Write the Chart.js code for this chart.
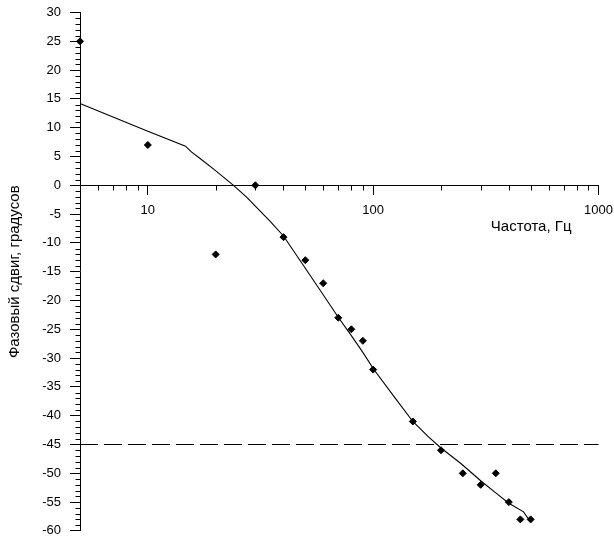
<!DOCTYPE html>
<html>
<head>
<meta charset="utf-8">
<script src="https://cdn.jsdelivr.net/npm/chart.js@4/dist/chart.umd.min.js"></script>
<style>
  html, body { margin: 0; padding: 0; background: #fff; }
  #wrap { width: 614px; height: 542px; position: relative; }
</style>
</head>
<body>
<div id="wrap"><canvas id="c"></canvas></div>
<script>
// Measured points: frequency (Hz) and phase shift (degrees)
const freq  = [5, 10, 20, 30, 40, 50, 60, 70, 80, 90, 100, 150, 200, 250, 300, 350, 400, 450, 500];
const phase = [25, 7, -12, 0, -9, -13, -17, -23, -25, -27, -32, -41, -46, -50, -52, -50, -55, -58, -58];

// Fitted curve
const fitFreq  = [5, 10, 14.7, 15.5, 17, 19.6, 24, 27.5, 30, 35, 40, 50, 60, 70, 80, 90, 100, 125, 150, 175, 200, 245, 300, 350, 400, 465, 500];
const fitPhase = [14.2, 9.4, 6.8, 5.9, 4.7, 2.8, 0, -2.1, -3.6, -6.3, -8.8, -14.4, -19.0, -22.9, -26.1, -29.0, -31.8, -36.9, -41.0, -43.6, -45.6, -48.3, -51.3, -53.4, -55.2, -56.7, -58.5];

// -45 degree reference line
const refFreq  = [5, 1000];
const refPhase = [-45, -45];

// Axis ranges and tick labels
const xMin = 5, xMax = 1000;
const xMajorTicks = [10, 100, 1000];
const yMin = -60, yMax = 30, yStep = 5;
const xTitle = 'Частота, Гц';
const yTitle = 'Фазовый сдвиг, градусов';

const FAMILY = '"Liberation Sans", Arial, sans-serif';
const FONT = { family: FAMILY, size: 13 };
const TFONT = { family: FAMILY, size: 15 };

const pts = (xs, ys) => xs.map((v, i) => ({ x: v, y: ys[i] }));

const noPad = (s) => { s.paddingTop = 0; s.paddingBottom = 0; s.paddingLeft = 0; s.paddingRight = 0; };

const extras = {
  id: 'extras',
  afterDraw(chart) {
    const { ctx, scales: { x, y } } = chart;
    ctx.save();
    ctx.strokeStyle = '#000';
    ctx.lineWidth = 1;
    ctx.beginPath();
    const ax = Math.round(x.left) + 0.5;
    for (let v = yMin; v <= yMax; v++) {
      if (v % yStep === 0) continue;
      const py = Math.round(y.getPixelForValue(v)) + 0.5;
      ctx.moveTo(ax - 5, py);
      ctx.lineTo(ax, py);
    }
    const ay = Math.round(y.getPixelForValue(0)) + 0.5;
    for (let d = 1; d <= 100; d *= 10) {
      for (let m = 2; m <= 9; m++) {
        const v = m * d;
        if (v <= xMin || v >= xMax || xMajorTicks.includes(v)) continue;
        const px = Math.round(x.getPixelForValue(v)) + 0.5;
        ctx.moveTo(px, ay);
        ctx.lineTo(px, ay + 5);
      }
    }
    ctx.stroke();
    ctx.fillStyle = '#000';
    ctx.font = TFONT.size + 'px ' + TFONT.family;
    ctx.textAlign = 'right';
    ctx.textBaseline = 'middle';
    ctx.fillText(xTitle, x.right - 27, y.getPixelForValue(0) + 42);
    ctx.restore();
  }
};

new Chart(document.getElementById('c'), {
  type: 'scatter',
  data: {
    datasets: [
      {
        label: 'ref',
        data: pts(refFreq, refPhase),
        showLine: true,
        borderColor: '#000',
        borderWidth: 1,
        borderDash: [18, 6],
        pointRadius: 0,
        clip: false
      },
      {
        label: 'fit',
        data: pts(fitFreq, fitPhase),
        showLine: true,
        borderColor: '#000',
        borderWidth: 1.1,
        tension: 0,
        pointRadius: 0,
        clip: false
      },
      {
        label: 'data',
        data: pts(freq, phase),
        pointStyle: 'rectRot',
        pointRadius: 3.5,
        pointBackgroundColor: '#000',
        pointBorderColor: '#000',
        pointBorderWidth: 1,
        clip: false
      }
    ]
  },
  options: {
    responsive: true,
    maintainAspectRatio: false,
    animation: false,
    devicePixelRatio: 1,
    layout: { padding: { left: 0, right: 15.5, top: 12.5, bottom: 11.1 } },
    plugins: { legend: { display: false }, tooltip: { enabled: false } },
    scales: {
      x: {
        type: 'logarithmic',
        min: xMin,
        max: xMax,
        position: { y: 0 },
        afterBuildTicks: (s) => { s.ticks = xMajorTicks.map(v => ({ value: v })); },
        afterFit: (s) => { s.height = 0; noPad(s); },
        border: { display: true, color: '#000', width: 1 },
        grid: { drawOnChartArea: false, drawTicks: true, tickLength: 9, color: '#000', tickColor: '#000' },
        ticks: {
          color: '#000',
          font: FONT,
          padding: 8,
          maxRotation: 0,
          autoSkip: false,
          callback: (v) => String(v)
        }
      },
      y: {
        type: 'linear',
        min: yMin,
        max: yMax,
        position: 'left',
        afterFit: (s) => { s.width = 80; noPad(s); },
        border: { display: true, color: '#000', width: 1 },
        grid: { drawOnChartArea: false, drawTicks: true, tickLength: 10, color: '#000', tickColor: '#000' },
        ticks: { stepSize: yStep, color: '#000', font: FONT, padding: 9, autoSkip: false },
        title: { display: true, text: yTitle, color: '#000', font: TFONT, padding: { top: 6, bottom: 0 } }
      }
    }
  },
  plugins: [extras]
});
</script>
</body>
</html>
